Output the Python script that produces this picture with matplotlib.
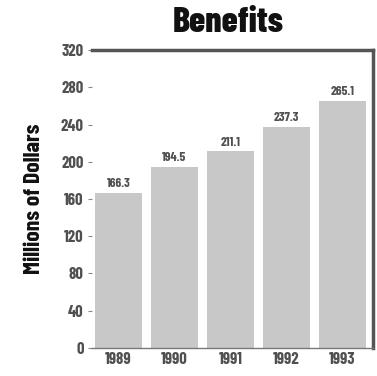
import matplotlib.pyplot as plt

years = ['1989', '1990', '1991', '1992', '1993']
benefits = [166.3, 194.5, 211.1, 237.3, 265.1]
yticks = [0, 40, 80, 120, 160, 200, 240, 280, 320]

narrow = ['Barlow Condensed', 'DejaVu Sans']
ink = '#505050'

fig = plt.figure(figsize=(3.77, 3.76), dpi=100)
ax = fig.add_axes([0.244, 0.0745, 0.745, 0.7925])

x = range(len(years))
bars = ax.bar(x, benefits, width=0.84, color='#c8c8c8')

# value printed above each bar
for b, v in zip(bars, benefits):
    ax.text(b.get_x() + b.get_width() / 2, v + 4, f'{v:.1f}', ha='center', va='bottom',
            fontsize=9.5, fontweight='bold', family=narrow, color=ink)

ax.set_xlim(-0.47, 4.54)
ax.set_ylim(0, 320)
ax.set_yticks(yticks)
ax.set_xticks(list(x))
ax.set_xticklabels(years)
for lbl in ax.get_xticklabels() + ax.get_yticklabels():
    lbl.set_family(narrow)
    lbl.set_fontweight('bold')
    lbl.set_fontsize(12)
    lbl.set_color(ink)
ax.tick_params(axis='y', length=3, width=0.8, color='#888888', pad=3)
ax.tick_params(axis='x', length=0, pad=3)

# thick frame on top and right, thin baseline, no left spine
ax.spines['left'].set_visible(False)
ax.spines['bottom'].set_color('#777777')
ax.spines['bottom'].set_linewidth(1)
for side in ['top', 'right']:
    ax.spines[side].set_color('#555555')
    ax.spines[side].set_linewidth(2.5)

ax.set_ylabel('Millions of Dollars', fontsize=17, fontweight='bold', family=narrow,
              color='#111111', labelpad=12)
fig.text(0.605, 0.94, 'Benefits', ha='center', va='center', fontsize=26,
         fontweight='heavy', family=narrow, color='#111111')

fig.savefig('out.png', dpi=100)
